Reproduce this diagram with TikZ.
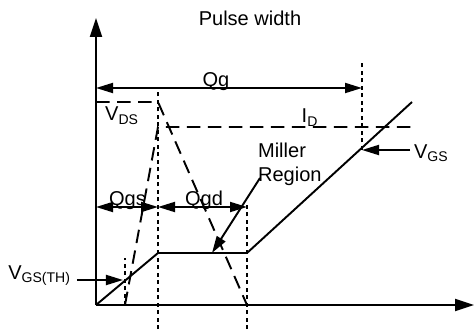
\documentclass[tikz,border=0pt]{standalone}
\usepackage{fontspec}
\setmainfont{Liberation Sans}
\usetikzlibrary{arrows.meta, positioning}

\begin{document}
\begin{tikzpicture}[
    font=\fontsize{11.4}{13.5}\selectfont,
    every node/.style={inner sep=1pt},
    axis/.style   ={line width=1.1pt, -{Triangle[length=3.8mm,width=2.4mm]}},
    curve/.style  ={line width=1.1pt, draw=black},
    wave/.style   ={line width=1.1pt, dash pattern=on 2.7mm off 1.5mm},
    marker/.style ={line width=1.1pt, dash pattern=on 0.8mm off 0.7mm},
    span/.style   ={line width=1.1pt,
                    {Triangle[length=3.4mm,width=2mm]}-{Triangle[length=3.4mm,width=2mm]}},
    pointer/.style={line width=1.1pt, -{Triangle[length=3.4mm,width=2mm]}},
    lbl/.style    ={font=\fontsize{11.4}{13.5}\selectfont},
  ]

  %% --- common geometry --------------------------------------------------
  \def\tA{0.58}   % threshold reached
  \def\tB{1.24}   % end of Qgs
  \def\tC{3.02}   % end of Qgd (Miller plateau)
  \def\tD{5.32}   % end of Qg
  \def\vp{1.04}   % plateau level
  \def\vd{4.06}   % V_DS off level
  \def\ia{3.56}   % I_D on level
  \def\yg{4.34}   % Qg arrow height
  \def\yq{1.96}   % Qgs / Qgd arrow height

  \useasboundingbox (-1.92,-0.48) rectangle (7.58,6.10);

  %% --- axes ----------------------------------------------------------------
  \coordinate (O) at (0,0);
  \coordinate (xend) at (7.56,0);
  \coordinate (yend) at (0,5.74);
  \draw[axis] (O) -- (xend);
  \draw[axis] (O) -- (yend);

  %% --- time markers ---------------------------------------------------------
  \draw[marker] (\tA,0) -- (\tA,0.94);
  \draw[marker] (\tB,-0.48) -- (\tB,\yg);
  \draw[marker] (\tC,-0.48) -- (\tC,2.06);
  \draw[marker] (\tD,3.10) -- (\tD,4.86);

  %% --- drain waveforms ---------------------------------------------------------
  \draw[wave] (0,\vd) -- (\tB,\vd) -- (\tC,0);
  \draw[wave] (\tA,0) -- (\tB,\ia) -- (6.32,\ia);

  %% --- gate voltage ---------------------------------------------------------
  \draw[curve] (O) -- (\tB,\vp) -- (\tC,\vp) -- (6.32,4.06);

  %% --- charge spans ---------------------------------------------------------
  \coordinate (gL) at (0,\yg);
  \coordinate (gR) at (\tD,\yg);
  \coordinate (sL) at (0,\yq);
  \coordinate (sR) at (\tB,\yq);
  \coordinate (dR) at (\tC,\yq);
  \draw[span] (gL) -- (gR);
  \draw[span] (sL) -- (sR);
  \draw[span] (sR) -- (dR);
  \node[lbl, anchor=base] (qg)  at (2.40,4.36) {Qg};
  \node[lbl, anchor=base] (qgs) at (0.63,1.98) {Qgs};
  \node[lbl, anchor=base] (qgd) at (2.16,1.98) {Qgd};

  %% --- labels ---------------------------------------------------------------
  \node[lbl, anchor=base] (title) at (3.08,5.58) {Pulse width};
  \node[lbl, anchor=base] (vds) at (0.52,3.68) {V\textsubscript{DS}};
  \node[lbl, anchor=base] (id)  at (4.28,3.64) {I\textsubscript{D}};

  \node[lbl, anchor=base east] (vth) at (-0.46,0.52) {V\textsubscript{GS(TH)}};
  \coordinate (thr) at (0.54,0.50);
  \draw[pointer] (-0.38,0.50) -- (thr);

  \node[lbl, anchor=west] (vgs) at (6.32,3.04) {V\textsubscript{GS}};
  \coordinate (cross) at (\tD,3.10);
  \draw[pointer] (6.28,3.10) -- (cross);

  \node[lbl, align=left, anchor=north west] (miller) at (3.20,3.28)
        {Miller\\Region};
  \coordinate (mtail) at (3.28,2.54);
  \coordinate (mtip) at (2.32,\vp);
  \draw[pointer] (mtail) -- (mtip);

\end{tikzpicture}
\end{document}
